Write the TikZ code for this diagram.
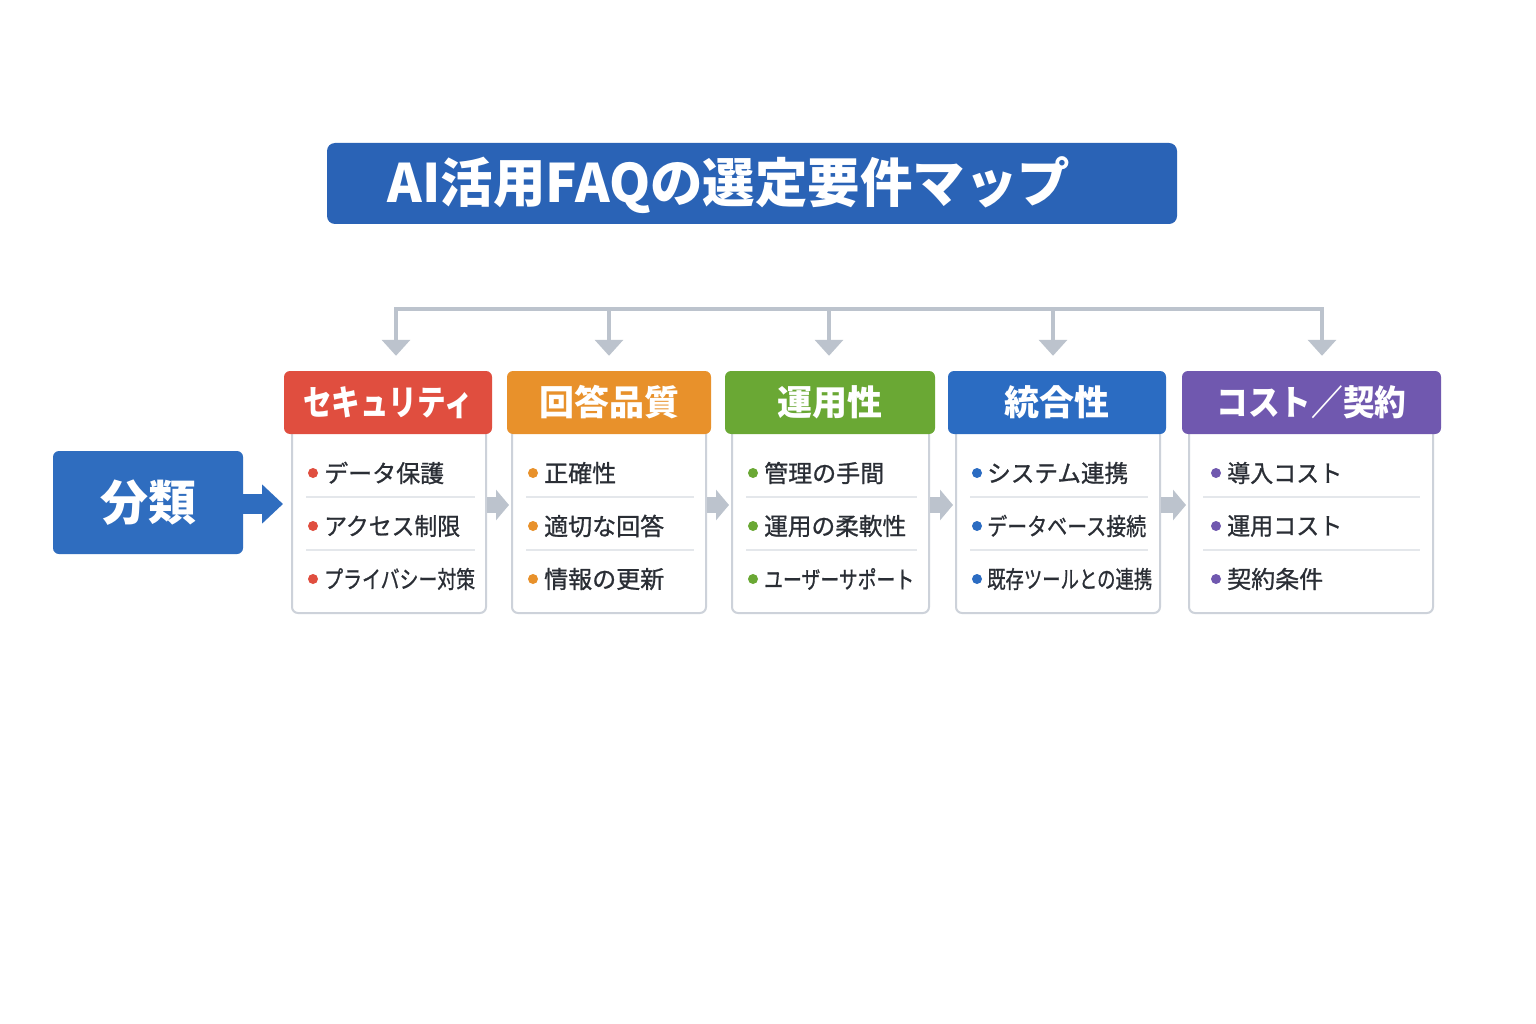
\documentclass[tikz,border=0pt]{standalone}
\usepackage{fontspec}
\usepackage{graphicx}
\setmainfont{Noto Sans CJK JP}
\newfontfamily\itemfont{Noto Sans CJK JP}[FakeBold=0.9]
\usetikzlibrary{arrows.meta,calc}
\definecolor{titleblue}{HTML}{2A63B6}
\definecolor{cred}{HTML}{E04E3F}
\definecolor{corange}{HTML}{E8912B}
\definecolor{cgreen}{HTML}{6AA834}
\definecolor{cblue}{HTML}{2B6CC2}
\definecolor{cpurple}{HTML}{7058AF}
\definecolor{leftblue}{HTML}{2F6DBF}
\definecolor{arrowgray}{HTML}{BCC3CD}
\definecolor{boxgray}{HTML}{CDD2DA}
\definecolor{sepgray}{HTML}{E4E7EB}
\definecolor{itemtext}{HTML}{2A2E35}
\newcommand\sq[2]{\resizebox{#1}{\height}{#2}}
\tikzset{
  hdr/.style={rounded corners=6pt, minimum height=63pt, text=white,
    font=\bfseries\fontsize{35pt}{40pt}\selectfont, inner sep=0pt},
  bodybox/.style={draw=boxgray, line width=2pt, fill=white, rounded corners=6pt,
    minimum height=189pt, inner sep=0pt},
  itemtxt/.style={anchor=west, text=itemtext, font=\itemfont\fontsize{24pt}{28pt}\selectfont, inner sep=0pt},
  dot/.style={circle, inner sep=0pt, minimum size=10pt},
  sepline/.style={draw=sepgray, line width=1.2pt},
  flowarrow/.style={draw=arrowgray, line width=16pt, -{Triangle[width=30pt,length=13pt]}, shorten >=2pt},
  busline/.style={draw=arrowgray, line width=3.5pt, line cap=rect},
  busarrow/.style={draw=arrowgray, line width=3.5pt, -{Triangle[width=28pt,length=16pt]}, shorten >=15pt},
}
\begin{document}
\begin{tikzpicture}[x=1pt,y=1pt]
\useasboundingbox (0,0) rectangle (1536,-1024);
\fill[white] (0,0) rectangle (1536,-1024);

% title
\node[fill=titleblue, rounded corners=8pt, minimum width=850pt, minimum height=81pt, inner sep=0pt] (titlebox) at (752,-183.5) {};
\node[text=white, font=\bfseries\fontsize{53pt}{60pt}\selectfont, inner sep=0pt] (title) at (729,-185) {\sq{682pt}{AI活用FAQの選定要件マップ}};

% bodies
\node[bodybox, minimum width=194pt] (b1) at (389,-518.5) {};
\node[bodybox, minimum width=194pt] (b2) at (609,-518.5) {};
\node[bodybox, minimum width=197pt] (b3) at (830.5,-518.5) {};
\node[bodybox, minimum width=204pt] (b4) at (1058,-518.5) {};
\node[bodybox, minimum width=244pt] (b5) at (1311,-518.5) {};

% headers
\node[hdr, fill=cred, minimum width=208pt] (h1) at (388,-402.5) {\sq{170pt}{セキュリティ}};
\node[hdr, fill=corange, minimum width=204pt] (h2) at (609,-402.5) {回答品質};
\node[hdr, fill=cgreen, minimum width=210pt] (h3) at (830,-402.5) {運用性};
\node[hdr, fill=cblue, minimum width=218pt] (h4) at (1057,-402.5) {統合性};
\node[hdr, fill=cpurple, minimum width=259pt] (h5) at (1311.5,-402.5) {\sq{190pt}{コスト／契約}};

% separators
\foreach \xa/\xb in {306/475, 526/694, 746/917, 970/1148, 1203/1420}{
  \draw[sepline] (\xa,-497) -- (\xb,-497);
  \draw[sepline] (\xa,-550) -- (\xb,-550);
}

% items box 1
\node[dot, fill=cred] (d11) at (313,-473) {};
\node[dot, fill=cred] (d12) at (313,-526) {};
\node[dot, fill=cred] (d13) at (313,-579) {};
\node[itemtxt] (i11) at (324,-473) {データ保護};
\node[itemtxt] (i12) at (324,-526) {\sq{136pt}{アクセス制限}};
\node[itemtxt] (i13) at (324,-579) {\sq{151pt}{プライバシー対策}};
% items box 2
\node[dot, fill=corange] (d21) at (533,-473) {};
\node[dot, fill=corange] (d22) at (533,-526) {};
\node[dot, fill=corange] (d23) at (533,-579) {};
\node[itemtxt] (i21) at (544,-473) {正確性};
\node[itemtxt] (i22) at (544,-526) {適切な回答};
\node[itemtxt] (i23) at (544,-579) {情報の更新};
% items box 3
\node[dot, fill=cgreen] (d31) at (753,-473) {};
\node[dot, fill=cgreen] (d32) at (753,-526) {};
\node[dot, fill=cgreen] (d33) at (753,-579) {};
\node[itemtxt] (i31) at (764,-473) {管理の手間};
\node[itemtxt] (i32) at (764,-526) {\sq{142pt}{運用の柔軟性}};
\node[itemtxt] (i33) at (764,-579) {\sq{150pt}{ユーザーサポート}};
% items box 4
\node[dot, fill=cblue] (d41) at (977,-473) {};
\node[dot, fill=cblue] (d42) at (977,-526) {};
\node[dot, fill=cblue] (d43) at (977,-579) {};
\node[itemtxt] (i41) at (987,-473) {\sq{141pt}{システム連携}};
\node[itemtxt] (i42) at (987,-526) {\sq{159pt}{データベース接続}};
\node[itemtxt] (i43) at (987,-579) {\sq{165pt}{既存ツールとの連携}};
% items box 5
\node[dot, fill=cpurple] (d51) at (1216,-473) {};
\node[dot, fill=cpurple] (d52) at (1216,-526) {};
\node[dot, fill=cpurple] (d53) at (1216,-579) {};
\node[itemtxt] (i51) at (1227,-473) {\sq{115pt}{導入コスト}};
\node[itemtxt] (i52) at (1227,-526) {\sq{115pt}{運用コスト}};
\node[itemtxt] (i53) at (1227,-579) {契約条件};

% left box
\node[fill=leftblue, rounded corners=6pt, minimum width=190pt, minimum height=103pt, inner sep=0pt,
  text=white, font=\bfseries\fontsize{48pt}{54pt}\selectfont] (cls) at (148,-502.5) {分類};

% arrows
\coordinate (ya) at (0,-504);
\coordinate (yb) at (0,-505);
\draw[draw=leftblue, line width=20pt, -{Triangle[width=38pt,length=21pt]}, shorten >=8pt]
  (cls.east |- ya) -- (b1.west |- ya);
\draw[flowarrow] (b1.east |- yb) -- (b2.west |- yb);
\draw[flowarrow] (b2.east |- yb) -- (b3.west |- yb);
\draw[flowarrow] (b3.east |- yb) -- (b4.west |- yb);
\draw[flowarrow] (b4.east |- yb) -- (b5.west |- yb);

% top bus
\coordinate (t1) at (396,-309);
\coordinate (t2) at (609,-309);
\coordinate (t3) at (829,-309);
\coordinate (t4) at (1053,-309);
\coordinate (t5) at (1322,-309);
\draw[busline] (t1) -- (t5);
\draw[busarrow] (t1) -- (t1 |- h1.north);
\draw[busarrow] (t2) -- (t2 |- h2.north);
\draw[busarrow] (t3) -- (t3 |- h3.north);
\draw[busarrow] (t4) -- (t4 |- h4.north);
\draw[busarrow] (t5) -- (t5 |- h5.north);
\end{tikzpicture}
\end{document}
